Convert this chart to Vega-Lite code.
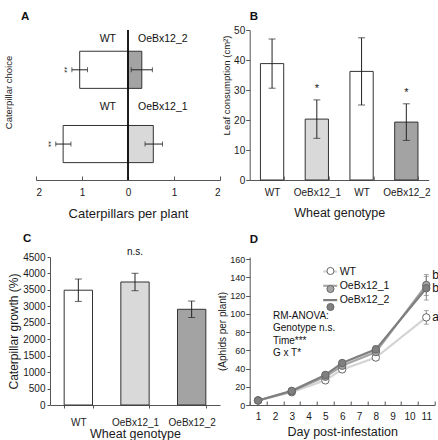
{
  "$schema": "https://vega.github.io/schema/vega-lite/v6.json",
  "background": "white",
  "padding": {"left": 3, "top": 10, "right": 0, "bottom": 0},
  "config": {
    "font": "Liberation Sans",
    "view": {"stroke": null},
    "axis": {"grid": false, "domainColor": "#555555", "tickColor": "#555555", "labelColor": "#1a1a1a", "titleColor": "#1a1a1a", "titleFontWeight": "normal", "labelFontSize": 10, "domainWidth": 1, "tickWidth": 1, "labelFont": "Liberation Sans", "titleFont": "Liberation Sans", "labelOverlap": false},
    "title": {"fontWeight": "bold", "fontSize": 11.5, "anchor": "start", "frame": "group", "color": "#111111", "font": "Liberation Sans"},
    "legend": {"labelFont": "Liberation Sans"}
  },
  "columns": 2,
  "align": "all",
  "bounds": "flush",
  "spacing": {"row": 77, "column": 28.7},
  "resolve": {"scale": {"fill": "independent", "stroke": "independent"}},
  "concat": [
    {
      "width": 184, "height": 150,
      "title": {"text": "A", "dx": -15, "offset": 7.4},
      "data": {"values": [
        {"pair": "OeBx12_2", "genotype": "WT", "value": -1.05, "lo": -1.22, "hi": -0.88},
        {"pair": "OeBx12_2", "genotype": "OeBx12_2", "value": 0.30, "lo": 0.07, "hi": 0.53},
        {"pair": "OeBx12_1", "genotype": "WT", "value": -1.41, "lo": -1.57, "hi": -1.24},
        {"pair": "OeBx12_1", "genotype": "OeBx12_1", "value": 0.55, "lo": 0.37, "hi": 0.75}
      ]},
      "layer": [
        {
          "mark": {"type": "bar", "stroke": "#333333", "strokeWidth": 1},
          "encoding": {
            "y": {"field": "pair", "type": "nominal", "sort": ["OeBx12_2", "OeBx12_1"], "title": "Caterpillar choice", "scale": {"paddingInner": 0.5, "paddingOuter": 0.26, "align": 0.55}, "axis": {"labels": false, "ticks": false, "domain": false, "titleFontSize": 9.5, "titleY": 62, "titlePadding": 23}},
            "x": {"field": "value", "type": "quantitative", "title": "Caterpillars per plant", "scale": {"domain": [-2, 2], "nice": false, "zero": false}, "axis": {"values": [-2, -1, 0, 1, 2], "labelExpr": "abs(datum.value)", "tickSize": -4, "labelPadding": 11, "titlePadding": 10, "titleFontSize": 13}},
            "fill": {"field": "genotype", "type": "nominal", "scale": {"domain": ["WT", "OeBx12_1", "OeBx12_2"], "range": ["#ffffff", "#d9d9d9", "#a3a3a3"]}, "legend": null}
          }
        },
        {
          "mark": {"type": "errorbar", "ticks": {"size": 5, "color": "#222222"}, "rule": {"color": "#222222"}},
          "encoding": {
            "y": {"field": "pair", "type": "nominal", "sort": ["OeBx12_2", "OeBx12_1"], "title": "Caterpillar choice", "scale": {"paddingInner": 0.5, "paddingOuter": 0.26, "align": 0.55}, "axis": {"labels": false, "ticks": false, "domain": false, "titleFontSize": 9.5, "titleY": 62, "titlePadding": 23}},
            "x": {"field": "lo", "type": "quantitative", "title": "Caterpillars per plant", "scale": {"domain": [-2, 2], "nice": false, "zero": false}, "axis": {"values": [-2, -1, 0, 1, 2], "labelExpr": "abs(datum.value)", "tickSize": -4, "labelPadding": 11, "titlePadding": 10, "titleFontSize": 13}},
            "x2": {"field": "hi"}
          }
        },
        {
          "transform": [{"filter": "datum.pair === 'OeBx12_2' && datum.genotype === 'WT'"}],
          "mark": {"type": "text", "align": "right", "baseline": "middle", "dx": -12, "dy": -30.4, "fontSize": 10.5, "color": "#111111"},
          "encoding": {
            "y": {"field": "pair", "type": "nominal", "sort": ["OeBx12_2", "OeBx12_1"], "title": "Caterpillar choice", "scale": {"paddingInner": 0.5, "paddingOuter": 0.26, "align": 0.55}, "axis": {"labels": false, "ticks": false, "domain": false, "titleFontSize": 9.5, "titleY": 62, "titlePadding": 23}},
            "x": {"datum": 0, "type": "quantitative", "title": "Caterpillars per plant", "scale": {"domain": [-2, 2], "nice": false, "zero": false}, "axis": {"values": [-2, -1, 0, 1, 2], "labelExpr": "abs(datum.value)", "tickSize": -4, "labelPadding": 11, "titlePadding": 10, "titleFontSize": 13}},
            "text": {"field": "genotype"}
          }
        },
        {
          "transform": [{"filter": "datum.pair === 'OeBx12_2' && datum.genotype !== 'WT'"}],
          "mark": {"type": "text", "align": "left", "baseline": "middle", "dx": 10, "dy": -30.4, "fontSize": 10.5, "color": "#111111"},
          "encoding": {
            "y": {"field": "pair", "type": "nominal", "sort": ["OeBx12_2", "OeBx12_1"], "title": "Caterpillar choice", "scale": {"paddingInner": 0.5, "paddingOuter": 0.26, "align": 0.55}, "axis": {"labels": false, "ticks": false, "domain": false, "titleFontSize": 9.5, "titleY": 62, "titlePadding": 23}},
            "x": {"datum": 0, "type": "quantitative", "title": "Caterpillars per plant", "scale": {"domain": [-2, 2], "nice": false, "zero": false}, "axis": {"values": [-2, -1, 0, 1, 2], "labelExpr": "abs(datum.value)", "tickSize": -4, "labelPadding": 11, "titlePadding": 10, "titleFontSize": 13}},
            "text": {"field": "genotype"}
          }
        },
        {
          "transform": [{"filter": "datum.pair === 'OeBx12_1' && datum.genotype === 'WT'"}],
          "mark": {"type": "text", "align": "right", "baseline": "middle", "dx": -12, "dy": -37.5, "fontSize": 10.5, "color": "#111111"},
          "encoding": {
            "y": {"field": "pair", "type": "nominal", "sort": ["OeBx12_2", "OeBx12_1"], "title": "Caterpillar choice", "scale": {"paddingInner": 0.5, "paddingOuter": 0.26, "align": 0.55}, "axis": {"labels": false, "ticks": false, "domain": false, "titleFontSize": 9.5, "titleY": 62, "titlePadding": 23}},
            "x": {"datum": 0, "type": "quantitative", "title": "Caterpillars per plant", "scale": {"domain": [-2, 2], "nice": false, "zero": false}, "axis": {"values": [-2, -1, 0, 1, 2], "labelExpr": "abs(datum.value)", "tickSize": -4, "labelPadding": 11, "titlePadding": 10, "titleFontSize": 13}},
            "text": {"field": "genotype"}
          }
        },
        {
          "transform": [{"filter": "datum.pair === 'OeBx12_1' && datum.genotype !== 'WT'"}],
          "mark": {"type": "text", "align": "left", "baseline": "middle", "dx": 10, "dy": -37.5, "fontSize": 10.5, "color": "#111111"},
          "encoding": {
            "y": {"field": "pair", "type": "nominal", "sort": ["OeBx12_2", "OeBx12_1"], "title": "Caterpillar choice", "scale": {"paddingInner": 0.5, "paddingOuter": 0.26, "align": 0.55}, "axis": {"labels": false, "ticks": false, "domain": false, "titleFontSize": 9.5, "titleY": 62, "titlePadding": 23}},
            "x": {"datum": 0, "type": "quantitative", "title": "Caterpillars per plant", "scale": {"domain": [-2, 2], "nice": false, "zero": false}, "axis": {"values": [-2, -1, 0, 1, 2], "labelExpr": "abs(datum.value)", "tickSize": -4, "labelPadding": 11, "titlePadding": 10, "titleFontSize": 13}},
            "text": {"field": "genotype"}
          }
        },
        {
          "transform": [{"filter": "datum.genotype === 'WT'"}],
          "mark": {"type": "text", "angle": 90, "align": "center", "baseline": "middle", "dy": 8, "fontSize": 8, "color": "#222222"},
          "encoding": {
            "y": {"field": "pair", "type": "nominal", "sort": ["OeBx12_2", "OeBx12_1"], "title": "Caterpillar choice", "scale": {"paddingInner": 0.5, "paddingOuter": 0.26, "align": 0.55}, "axis": {"labels": false, "ticks": false, "domain": false, "titleFontSize": 9.5, "titleY": 62, "titlePadding": 23}},
            "x": {"field": "lo", "type": "quantitative", "title": "Caterpillars per plant", "scale": {"domain": [-2, 2], "nice": false, "zero": false}, "axis": {"values": [-2, -1, 0, 1, 2], "labelExpr": "abs(datum.value)", "tickSize": -4, "labelPadding": 11, "titlePadding": 10, "titleFontSize": 13}},
            "text": {"value": "**"}
          }
        },
        {
          "mark": {"type": "rule", "color": "#111111", "strokeWidth": 1},
          "encoding": {
            "x": {"datum": 0, "type": "quantitative", "title": "Caterpillars per plant", "scale": {"domain": [-2, 2], "nice": false, "zero": false}, "axis": {"values": [-2, -1, 0, 1, 2], "labelExpr": "abs(datum.value)", "tickSize": -4, "labelPadding": 11, "titlePadding": 10, "titleFontSize": 13}}
          }
        }
      ]
    },
    {
      "width": 179, "height": 150,
      "title": {"text": "B", "dx": 0, "offset": 2.4},
      "data": {"values": [
        {"bar": "WT-1", "genotype": "WT", "mean": 38.8, "lo": 30.6, "hi": 47.0, "sig": ""},
        {"bar": "OeBx12_1", "genotype": "OeBx12_1", "mean": 20.3, "lo": 13.9, "hi": 26.7, "sig": "*"},
        {"bar": "WT-2", "genotype": "WT", "mean": 36.2, "lo": 25.0, "hi": 47.4, "sig": ""},
        {"bar": "OeBx12_2", "genotype": "OeBx12_2", "mean": 19.3, "lo": 13.2, "hi": 25.4, "sig": "*"}
      ]},
      "encoding": {
        "x": {"field": "bar", "type": "nominal", "sort": null, "title": "Wheat genotype", "scale": {"paddingInner": 0.48, "paddingOuter": 0.24}, "axis": {"labelAngle": 0, "labelExpr": "indexof(datum.label, 'WT') === 0 ? 'WT' : datum.label", "tickBand": "extent", "tickSize": -4, "labelPadding": 11, "titlePadding": 9, "titleFontSize": 12.5}}
      },
      "layer": [
        {
          "mark": {"type": "bar", "stroke": "#333333", "strokeWidth": 1},
          "encoding": {
            "y": {"field": "mean", "type": "quantitative", "title": "Leaf consumption (cm²)", "scale": {"domain": [0, 50], "nice": false}, "axis": {"values": [0, 10, 20, 30, 40, 50], "tickSize": 4, "labelPadding": 1, "titlePadding": 2, "titleFontSize": 9.5, "titleY": 55}},
            "fill": {"field": "genotype", "type": "nominal", "scale": {"domain": ["WT", "OeBx12_1", "OeBx12_2"], "range": ["#ffffff", "#d9d9d9", "#a3a3a3"]}, "legend": null}
          }
        },
        {
          "mark": {"type": "errorbar", "ticks": {"size": 7, "color": "#222222"}, "rule": {"color": "#222222"}},
          "encoding": {
            "y": {"field": "lo", "type": "quantitative", "title": "Leaf consumption (cm²)", "scale": {"domain": [0, 50], "nice": false}, "axis": {"values": [0, 10, 20, 30, 40, 50], "tickSize": 4, "labelPadding": 1, "titlePadding": 2, "titleFontSize": 9.5, "titleY": 55}},
            "y2": {"field": "hi"}
          }
        },
        {
          "transform": [{"filter": "datum.sig !== ''"}],
          "mark": {"type": "text", "baseline": "bottom", "dy": -6, "fontSize": 11, "color": "#111111"},
          "encoding": {
            "y": {"field": "hi", "type": "quantitative", "title": "Leaf consumption (cm²)", "scale": {"domain": [0, 50], "nice": false}, "axis": {"values": [0, 10, 20, 30, 40, 50], "tickSize": 4, "labelPadding": 1, "titlePadding": 2, "titleFontSize": 9.5, "titleY": 55}},
            "text": {"field": "sig"}
          }
        }
      ]
    },
    {
      "width": 184, "height": 148,
      "title": {"text": "C", "dx": -13, "offset": 2.7},
      "data": {"values": [
        {"genotype": "WT", "mean": 3490, "lo": 3150, "hi": 3830, "sig": ""},
        {"genotype": "OeBx12_1", "mean": 3740, "lo": 3475, "hi": 4005, "sig": "n.s."},
        {"genotype": "OeBx12_2", "mean": 2910, "lo": 2660, "hi": 3160, "sig": ""}
      ]},
      "encoding": {
        "x": {"field": "genotype", "type": "nominal", "sort": null, "title": "Wheat genotype", "scale": {"range": [14, 184], "paddingInner": 0.5, "paddingOuter": 0.25}, "axis": {"labelAngle": 0, "tickBand": "extent", "tickSize": 3, "labelPadding": 9, "titlePadding": 0, "titleFontSize": 12.5}}
      },
      "layer": [
        {
          "mark": {"type": "bar", "stroke": "#333333", "strokeWidth": 1},
          "encoding": {
            "y": {"field": "mean", "type": "quantitative", "title": "Caterpillar growth (%)", "scale": {"domain": [0, 4500], "nice": false}, "axis": {"values": [0, 500, 1000, 1500, 2000, 2500, 3000, 3500, 4000, 4500], "format": "d", "offset": -14, "tickSize": 3, "labelPadding": 2, "titlePadding": 2, "titleFontSize": 12}},
            "fill": {"field": "genotype", "type": "nominal", "scale": {"domain": ["WT", "OeBx12_1", "OeBx12_2"], "range": ["#ffffff", "#d9d9d9", "#a3a3a3"]}, "legend": null}
          }
        },
        {
          "mark": {"type": "errorbar", "ticks": {"size": 7, "color": "#222222"}, "rule": {"color": "#222222"}},
          "encoding": {
            "y": {"field": "lo", "type": "quantitative", "title": "Caterpillar growth (%)", "scale": {"domain": [0, 4500], "nice": false}, "axis": {"values": [0, 500, 1000, 1500, 2000, 2500, 3000, 3500, 4000, 4500], "format": "d", "offset": -14, "tickSize": 3, "labelPadding": 2, "titlePadding": 2, "titleFontSize": 12}},
            "y2": {"field": "hi"}
          }
        },
        {
          "transform": [{"filter": "datum.sig !== ''"}],
          "mark": {"type": "text", "baseline": "bottom", "dy": -16, "fontSize": 10, "color": "#111111"},
          "encoding": {
            "y": {"field": "hi", "type": "quantitative", "title": "Caterpillar growth (%)", "scale": {"domain": [0, 4500], "nice": false}, "axis": {"values": [0, 500, 1000, 1500, 2000, 2500, 3000, 3500, 4000, 4500], "format": "d", "offset": -14, "tickSize": 3, "labelPadding": 2, "titlePadding": 2, "titleFontSize": 12}},
            "text": {"field": "sig"}
          }
        }
      ]
    },
    {
      "width": 185, "height": 148,
      "title": {"text": "D", "dx": 0, "offset": 9.9},
      "data": {"values": [
        {"genotype": "WT", "day": 1, "mean": 5, "lo": 4, "hi": 6},
        {"genotype": "WT", "day": 3, "mean": 14, "lo": 13, "hi": 15},
        {"genotype": "WT", "day": 5, "mean": 27, "lo": 25.5, "hi": 28.5},
        {"genotype": "WT", "day": 6, "mean": 39, "lo": 37, "hi": 41},
        {"genotype": "WT", "day": 8, "mean": 52, "lo": 49, "hi": 55},
        {"genotype": "WT", "day": 11, "mean": 96, "lo": 88.5, "hi": 103.5},
        {"genotype": "OeBx12_1", "day": 1, "mean": 5, "lo": 4, "hi": 6},
        {"genotype": "OeBx12_1", "day": 3, "mean": 15, "lo": 14, "hi": 16},
        {"genotype": "OeBx12_1", "day": 5, "mean": 31, "lo": 29, "hi": 33},
        {"genotype": "OeBx12_1", "day": 6, "mean": 43, "lo": 41, "hi": 45},
        {"genotype": "OeBx12_1", "day": 8, "mean": 58, "lo": 54, "hi": 62},
        {"genotype": "OeBx12_1", "day": 11, "mean": 131.5, "lo": 120, "hi": 143},
        {"genotype": "OeBx12_2", "day": 1, "mean": 5, "lo": 4, "hi": 6},
        {"genotype": "OeBx12_2", "day": 3, "mean": 15.5, "lo": 14.5, "hi": 16.5},
        {"genotype": "OeBx12_2", "day": 5, "mean": 33, "lo": 31, "hi": 35},
        {"genotype": "OeBx12_2", "day": 6, "mean": 46, "lo": 44, "hi": 48},
        {"genotype": "OeBx12_2", "day": 8, "mean": 61, "lo": 57, "hi": 65},
        {"genotype": "OeBx12_2", "day": 11, "mean": 128, "lo": 115, "hi": 141}
      ]},
      "encoding": {
        "x": {"field": "day", "type": "ordinal", "title": "Day post-infestation", "scale": {"type": "band", "domain": [1, 2, 3, 4, 5, 6, 7, 8, 9, 10, 11], "paddingInner": 0, "paddingOuter": 0}, "axis": {"labelAngle": 0, "tickBand": "extent", "tickSize": -4, "labelPadding": 10, "titlePadding": 4.6, "titleFontSize": 12.5}}
      },
      "layer": [
        {
          "mark": {"type": "line", "strokeWidth": 2.2},
          "encoding": {
            "y": {"field": "mean", "type": "quantitative", "title": "(Aphids per plant)", "scale": {"domain": [0, 162.2], "nice": false}, "axis": {"values": [0, 20, 40, 60, 80, 100, 120, 140, 160], "tickSize": 4, "labelPadding": 1, "titlePadding": 2, "titleFontSize": 10, "labelFontSize": 9}},
            "stroke": {"field": "genotype", "type": "nominal", "scale": {"domain": ["WT", "OeBx12_1", "OeBx12_2"], "range": ["#d4d4d4", "#a6a6a6", "#7f7f7f"]}, "legend": {"orient": "none", "legendX": 72, "legendY": 6, "title": null, "symbolType": "stroke", "symbolSize": 196, "symbolStrokeWidth": 2.2, "labelFontSize": 10.5, "labelColor": "#111111", "labelOffset": 1, "rowPadding": 0.3, "padding": 0, "zindex": 0}}
          }
        },
        {
          "mark": {"type": "errorbar", "ticks": {"size": 5, "color": "#888888"}, "rule": {"color": "#888888"}},
          "encoding": {
            "y": {"field": "lo", "type": "quantitative", "title": "(Aphids per plant)", "scale": {"domain": [0, 162.2], "nice": false}, "axis": {"values": [0, 20, 40, 60, 80, 100, 120, 140, 160], "tickSize": 4, "labelPadding": 1, "titlePadding": 2, "titleFontSize": 10, "labelFontSize": 9}},
            "y2": {"field": "hi"}
          }
        },
        {
          "mark": {"type": "circle", "size": 55, "stroke": "#666666", "strokeWidth": 1, "opacity": 1},
          "encoding": {
            "y": {"field": "mean", "type": "quantitative", "title": "(Aphids per plant)", "scale": {"domain": [0, 162.2], "nice": false}, "axis": {"values": [0, 20, 40, 60, 80, 100, 120, 140, 160], "tickSize": 4, "labelPadding": 1, "titlePadding": 2, "titleFontSize": 10, "labelFontSize": 9}},
            "fill": {"field": "genotype", "type": "nominal", "sort": ["WT", "OeBx12_1", "OeBx12_2"], "scale": {"range": ["#ffffff", "#a6a6a6", "#808080"]}, "legend": {"orient": "none", "legendX": 72, "legendY": 8.75, "title": null, "symbolType": "circle", "symbolSize": 50, "symbolStrokeColor": "#666666", "symbolStrokeWidth": 1, "symbolOffset": 3.5, "labelFontSize": 10.5, "labelExpr": "''", "rowPadding": 6, "padding": 0, "zindex": 1}}
          }
        },
        {
          "data": {"values": [
            {"genotype": "WT", "day": 11, "y": 96, "letter": "a"},
            {"genotype": "OeBx12_1", "day": 11, "y": 142.5, "letter": "b"},
            {"genotype": "OeBx12_2", "day": 11, "y": 128, "letter": "b"}
          ]},
          "mark": {"type": "text", "align": "left", "baseline": "middle", "dx": 6, "fontSize": 12, "color": "#111111"},
          "encoding": {
            "y": {"field": "y", "type": "quantitative", "title": "(Aphids per plant)", "scale": {"domain": [0, 162.2], "nice": false}, "axis": {"values": [0, 20, 40, 60, 80, 100, 120, 140, 160], "tickSize": 4, "labelPadding": 1, "titlePadding": 2, "titleFontSize": 10, "labelFontSize": 9}},
            "text": {"field": "letter"}
          }
        },
        {
          "data": {"values": [
            {"day": 2, "y": 103.4, "lines": ["RM-ANOVA:", "Genotype n.s.", "Time***", "G x T*"]}
          ]},
          "mark": {"type": "text", "align": "left", "baseline": "top", "dx": -2, "fontSize": 10, "lineHeight": 12.6, "color": "#111111"},
          "encoding": {
            "y": {"field": "y", "type": "quantitative", "title": "(Aphids per plant)", "scale": {"domain": [0, 162.2], "nice": false}, "axis": {"values": [0, 20, 40, 60, 80, 100, 120, 140, 160], "tickSize": 4, "labelPadding": 1, "titlePadding": 2, "titleFontSize": 10, "labelFontSize": 9}},
            "text": {"field": "lines", "type": "nominal"}
          }
        }
      ]
    }
  ]
}
